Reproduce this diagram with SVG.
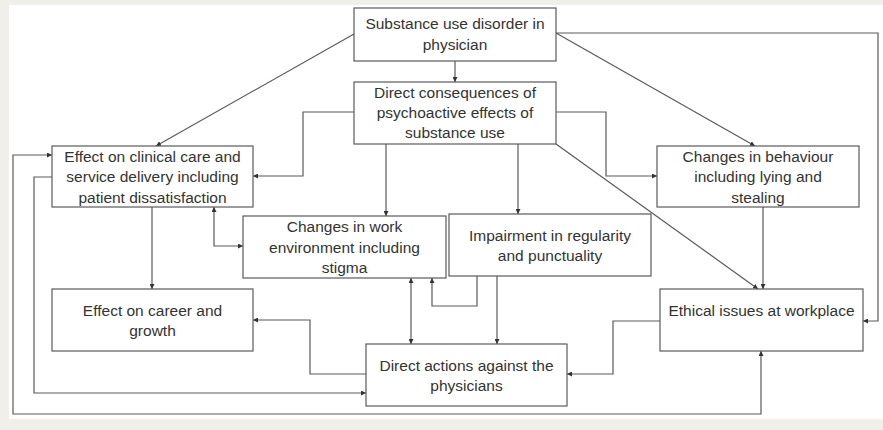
<svg xmlns="http://www.w3.org/2000/svg" width="883" height="430" viewBox="0 0 883 430">
<style>
.bg{fill:#f1efe9}
.panel{fill:#ffffff}
.box{fill:#ffffff;stroke:#5a5a5a;stroke-width:1.2}
.t{font-family:"Liberation Sans",Arial,sans-serif;font-size:15.5px;fill:#333333;text-anchor:middle}
.c{fill:none;stroke:#5a5a5a;stroke-width:1.2}
</style>
<defs>
<marker id="ah" viewBox="0 0 10 10" refX="10" refY="5" markerWidth="5" markerHeight="5" markerUnits="userSpaceOnUse" orient="auto-start-reverse">
<path d="M0,0 L10,5 L0,10 z" fill="#333333"/>
</marker>
</defs>
<rect class="bg" x="0" y="0" width="883" height="430"/>
<rect class="panel" x="9" y="5" width="874" height="414"/>

<g id="connectors">
<path class="c" d="M354,34 L156,146" marker-end="url(#ah)"/>
<path class="c" d="M455,61 V82" marker-end="url(#ah)"/>
<path class="c" d="M556,33 L755,146" marker-end="url(#ah)"/>
<path class="c" d="M556,33 H878 V321 H863" marker-end="url(#ah)"/>
<path class="c" d="M354,112 H303 V176 H253" marker-end="url(#ah)"/>
<path class="c" d="M556,112 H606 V176 H657" marker-end="url(#ah)"/>
<path class="c" d="M386,144 V216" marker-end="url(#ah)"/>
<path class="c" d="M518,144 V214" marker-end="url(#ah)"/>
<path class="c" d="M556,144 L758,289" marker-end="url(#ah)"/>
<path class="c" d="M763,207 V289" marker-end="url(#ah)"/>
<path class="c" d="M152,207 V289" marker-end="url(#ah)"/>
<path class="c" d="M214,207 V246 H243" marker-start="url(#ah)" marker-end="url(#ah)"/>
<path class="c" d="M411,278 V344" marker-start="url(#ah)" marker-end="url(#ah)"/>
<path class="c" d="M477,276 V306 H432 V278" marker-end="url(#ah)"/>
<path class="c" d="M497,276 V344" marker-end="url(#ah)"/>
<path class="c" d="M660,321 H613 V374 H567" marker-end="url(#ah)"/>
<path class="c" d="M366,374 H310 V320 H253" marker-end="url(#ah)"/>
<path class="c" d="M52,177 H34 V393 H366" marker-end="url(#ah)"/>
<path class="c" d="M761,351 V414 H13 V155 H52" marker-start="url(#ah)" marker-end="url(#ah)"/>
</g>

<g id="n1">
<rect class="box" x="354" y="8" width="202" height="53"/>
<text class="t" x="455" y="29">Substance use disorder in</text>
<text class="t" x="455" y="50">physician</text>
</g>
<g id="n2">
<rect class="box" x="354" y="82" width="202" height="62"/>
<text class="t" x="455" y="98">Direct consequences of</text>
<text class="t" x="455" y="118">psychoactive effects of</text>
<text class="t" x="455" y="138">substance use</text>
</g>
<g id="n3">
<rect class="box" x="52" y="146" width="201" height="61"/>
<text class="t" x="152.5" y="161.5">Effect on clinical care and</text>
<text class="t" x="152.5" y="182">service delivery including</text>
<text class="t" x="152.5" y="202.5">patient dissatisfaction</text>
</g>
<g id="n4">
<rect class="box" x="657" y="146" width="202" height="61"/>
<text class="t" x="758" y="161.5">Changes in behaviour</text>
<text class="t" x="758" y="182">including lying and</text>
<text class="t" x="758" y="202.5">stealing</text>
</g>
<g id="n5">
<rect class="box" x="243" y="216" width="203" height="62"/>
<text class="t" x="344.5" y="232">Changes in work</text>
<text class="t" x="344.5" y="252.5">environment including</text>
<text class="t" x="344.5" y="273">stigma</text>
</g>
<g id="n6">
<rect class="box" x="449" y="214" width="202" height="62"/>
<text class="t" x="550" y="240.5">Impairment in regularity</text>
<text class="t" x="550" y="261">and punctuality</text>
</g>
<g id="n7">
<rect class="box" x="52" y="289" width="201" height="62"/>
<text class="t" x="152.5" y="315.5">Effect on career and</text>
<text class="t" x="152.5" y="336">growth</text>
</g>
<g id="n8">
<rect class="box" x="366" y="344" width="201" height="62"/>
<text class="t" x="466.5" y="370.5">Direct actions against the</text>
<text class="t" x="466.5" y="391">physicians</text>
</g>
<g id="n9">
<rect class="box" x="660" y="289" width="203" height="62"/>
<text class="t" x="761.5" y="315.5">Ethical issues at workplace</text>
</g>
</svg>
